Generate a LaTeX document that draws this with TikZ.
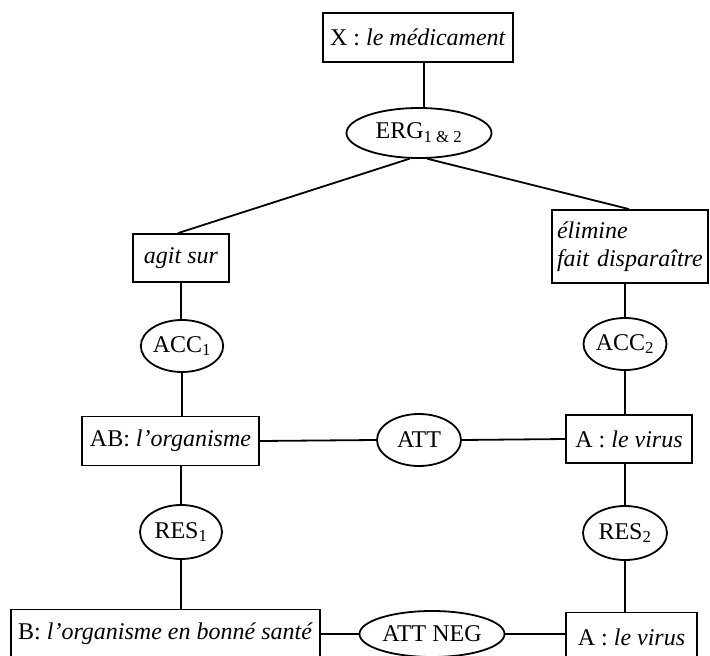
\documentclass[tikz,border=0pt]{standalone}
\usepackage{fontspec}
\setmainfont{Liberation Serif}
\usetikzlibrary{shapes.geometric}
\begin{document}
\begin{tikzpicture}[x=1pt,y=-1pt,
  every node/.style={font=\fontsize{24}{30}\selectfont, inner sep=0pt},
  boxn/.style={draw, line width=1.8pt, rectangle, minimum width=#1},
  ell/.style={draw, line width=1.8pt, ellipse, minimum width=#1},
  conn/.style={line width=1.8pt}]
\useasboundingbox (0,0) rectangle (710,656);
\clip (0,0) rectangle (710,656);
% nodes
\node[boxn=190, minimum height=49] (x) at (418,37.5) {X : \textit{le médicament}};
\node[ell=145, minimum height=50] (erg) at (419,133) {ERG\textsubscript{1 \& 2}};
\node[boxn=96, minimum height=48] (agit) at (181,258) {\textit{agit sur}};
\node[boxn=156, minimum height=73, align=left, text width=146pt, inner xsep=5pt] (elim) at (630,246.5) {\textit{élimine}\\[-2pt]\textit{fait disparaître}};
\node[ell=81, minimum height=52] (acc1) at (182,346) {ACC\textsubscript{1}};
\node[ell=83, minimum height=52] (acc2) at (625,344) {ACC\textsubscript{2}};
\node[boxn=177, minimum height=49] (ab) at (170.5,441) {AB: \textit{l’organisme}};
\node[ell=84, minimum height=52] (att) at (419,440) {ATT};
\node[boxn=126, minimum height=48] (av) at (629,439) {A : \textit{le virus}};
\node[ell=82, minimum height=54] (res1) at (181,532) {RES\textsubscript{1}};
\node[ell=84, minimum height=54] (res2) at (625,533) {RES\textsubscript{2}};
\node[boxn=309, minimum height=49] (b) at (165.5,634) {B: \textit{l’organisme en bonné santé}};
\node[ell=145, minimum height=46] (attneg) at (432,634) {ATT NEG};
\node[boxn=131, minimum height=49] (avb) at (631.5,637) {A : \textit{le virus}};
% connectors
\coordinate (ergtop) at (erg.north -| 424,0);
\draw[conn] (x.south -| ergtop) -- (ergtop);
\draw[conn] (erg.-110) -- (agit.north -| 178,0);
\draw[conn] (erg.-72) -- (elim.north -| 629,0);
\draw[conn] (agit.south) -- (agit.south |- acc1.north);
\draw[conn] (acc2.north |- elim.south) -- (acc2.north);
\draw[conn] (acc1.south) -- (acc1.south |- ab.north);
\draw[conn] (acc2.south) -- (acc2.south |- av.north);
\draw[conn] (ab.east) -- (att.west);
\draw[conn] (att.east) -- (av.west);
\draw[conn] (res1.north |- ab.south) -- (res1.north);
\draw[conn] (res2.north |- av.south) -- (res2.north);
\draw[conn] (res1.south) -- (res1.south |- b.north);
\draw[conn] (res2.south) -- (res2.south |- avb.north);
\draw[conn] (b.east) -- (attneg.west);
\draw[conn] (attneg.east) -- (avb.west |- attneg.east);
\end{tikzpicture}
\end{document}
